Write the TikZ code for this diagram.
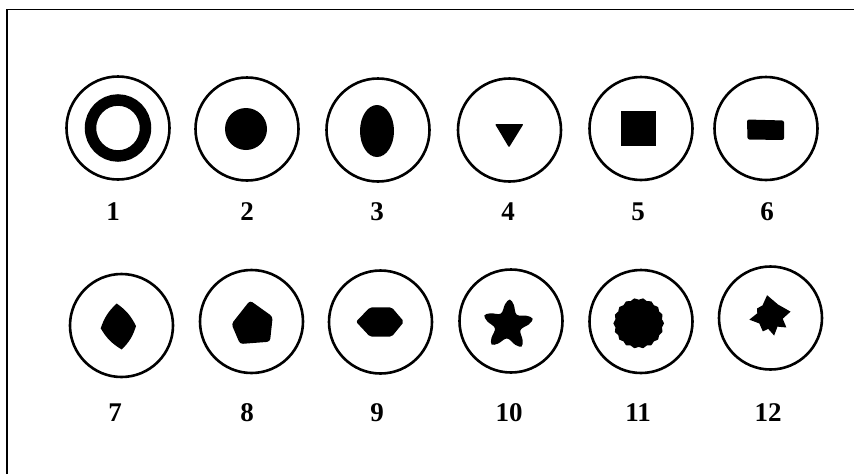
\documentclass[tikz,border=0pt]{standalone}
\usepackage{fontspec}
\setmainfont{Liberation Serif}
\usetikzlibrary{positioning}

\begin{document}
\begin{tikzpicture}[x=1pt,y=-1pt,
  dish/.style={circle, draw=black, line width=2.6pt, minimum size=103pt, inner sep=0pt},
  num/.style={font=\fontsize{27}{27}\selectfont\bfseries, inner sep=0pt},
  blob/.style={fill=black, line join=round}
]
\useasboundingbox (0,0) rectangle (854,474);
% frame (top and left edge only)
\draw[line width=1.2pt] (7,474) -- (7,9.5) -- (854,9.5);

% first row
\node[dish] (c1) at (118,128) {};
\node[dish] (c2) at (247,129) {};
\node[dish] (c3) at (378,130) {};
\node[dish] (c4) at (509.5,130) {};
\node[dish] (c5) at (641,128.5) {};
\node[dish] (c6) at (766,128.5) {};

% second row
\node[dish] (c7) at (121.5,325.5) {};
\node[dish] (c8) at (251.5,321.5) {};
\node[dish] (c9) at (380.5,322) {};
\node[dish] (c10) at (511,321) {};
\node[dish] (c11) at (641,321.5) {};
\node[dish] (c12) at (770.5,318) {};

% numbers
\node[num] (n1) at (113,211.5) {1};
\node[num] (n2) at (247,211.5) {2};
\node[num] (n3) at (377,211.5) {3};
\node[num] (n4) at (508,211.5) {4};
\node[num] (n5) at (638,211.5) {5};
\node[num] (n6) at (767,211.5) {6};
\node[num] (n7) at (115,413) {7};
\node[num] (n8) at (247,413) {8};
\node[num] (n9) at (377,413) {9};
\node[num] (n10) at (509,413) {10};
\node[num] (n11) at (638,413) {11};
\node[num] (n12) at (768,413) {12};

% 1: ring
\draw[line width=11.5pt] (c1.center) ellipse[x radius=27.5pt, y radius=28pt];
% 2: disc
\fill[blob] (246,129) circle[radius=21pt];
% 3: oval
\fill[blob] (377,131) ellipse[x radius=17pt, y radius=26pt];
% 4: triangle
\fill[blob, rounded corners=1pt] (495,124) -- (523.5,124) -- (509,147.5) -- cycle;
% 5: square
\fill[blob] (621,111) rectangle (656,146);
% 6: bar
\fill[blob, rounded corners=2pt] (747,119.5) -- (784,120.5) -- (784,140) -- (747.5,139.5) -- cycle;
% 7: rhomb with bulging sides
\fill[blob] (116.7,303.5) to[bend left=14] (136,326) to[bend left=14] (121.7,349.5)
  to[bend left=14] (100.7,328.3) to[bend left=14] cycle;
% 8: pentagon
\fill[blob, rounded corners=3pt] (250,300.5) -- (272.7,316.7) -- (270,341.7) -- (240,344) -- (231.5,324) -- cycle;
% 9: hexagon
\fill[blob, rounded corners=2pt] (356,321.7) -- (370,307.3) -- (391.7,307.3) -- (404,321.7) -- (391.7,336.7) -- (370,336.7) -- cycle;
% 10: starfish with round arm tips
\begin{scope}[shift={(508,325)}, rotate=-4]
\fill[blob] plot[smooth cycle, tension=0.6] coordinates {
  (78:21pt) (90:25.5pt) (102:21pt) (126:13.5pt)
  (150:21pt) (162:25.5pt) (174:21pt) (198:13.5pt)
  (222:21pt) (234:25.5pt) (246:21pt) (270:13.5pt)
  (294:21pt) (306:25.5pt) (318:21pt) (342:13.5pt)
  (6:21pt) (18:25.5pt) (30:21pt) (54:13.5pt)};
\end{scope}
% 11: wavy disc
\fill[blob, shift={(638.7,323.3)}] plot[smooth cycle, samples at={0,10,...,350}]
  (\x:{(25.3-1.7*mod(round(\x/10),2))*1pt});
% 12: jagged star
\begin{scope}[shift={(770,316)}]
\fill[blob] (98:21pt) -- (125:13pt) -- (150:15pt) -- (168:13pt) -- (190:21pt)
  -- (215:13pt) -- (245:17pt) -- (262:13pt) -- (282:20pt) -- (305:13pt) -- (325:20pt)
  -- (348:13pt) -- (12:21pt) -- (55:14pt) -- cycle;
\end{scope}
\end{tikzpicture}
\end{document}
